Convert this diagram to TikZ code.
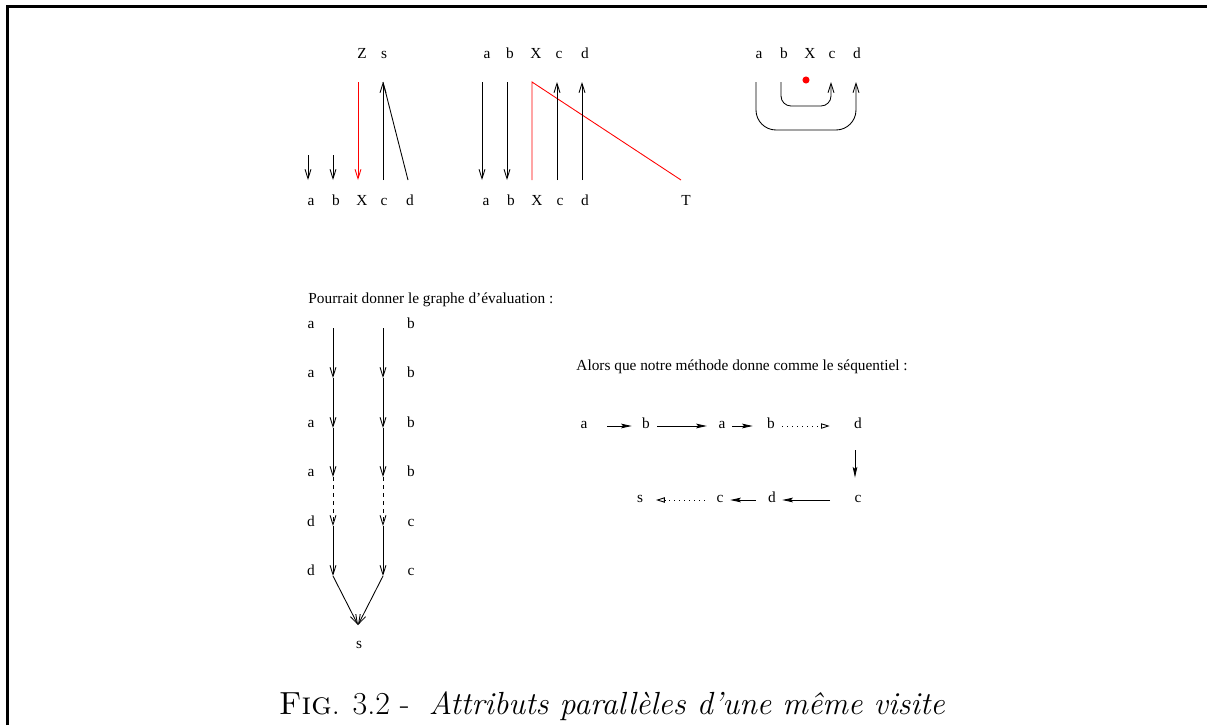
\documentclass[tikz,border=0pt]{standalone}
\usepackage{fontspec}
\newfontfamily\timesfont{Liberation Serif}
\usetikzlibrary{arrows.meta}
\tikzset{
	lbl/.style={font=\timesfont\fontsize{11.5}{13}\selectfont, inner sep=0pt, anchor=base},
	seqlbl/.style={lbl, text height=3pt, text depth=0pt},
	barb/.style={-{Straight Barb[length=7pt,width=4.5pt]}},
	seqarrow/.style={-{Stealth[length=8pt,width=3.5pt,inset=1.5pt]}},
	seqdots/.style={dash pattern=on 0.75pt off 3pt, -{Triangle[open,length=6.5pt,width=4pt]}}
}
\begin{document}
\begin{tikzpicture}[x=0.75pt,y=-0.75pt,line width=0.65pt]
					\useasboundingbox (0,0) rectangle (1207,725);
					\draw[line width=2.25pt] (7.5,725) -- (7.5,6.5) -- (1207,6.5);
					\node[lbl] (uZ) at (362,58) {Z};
					\node[lbl] (us) at (384,58) {s};
					\node[lbl] (ua) at (311,205) {a};
					\node[lbl] (ub) at (336,205) {b};
					\node[lbl] (uX) at (362,205) {X};
					\node[lbl] (uc) at (384,205) {c};
					\node[lbl] (ud) at (410,205) {d};
					\coordinate (ua1) at (308,155);
					\coordinate (ua2) at (308,180);
					\coordinate (ub1) at (333,155);
					\coordinate (ub2) at (333,180);
					\coordinate (uX1) at (358,82);
					\coordinate (uX2) at (358,180);
					\coordinate (uc1) at (383,82);
					\coordinate (uc2) at (383,180);
					\coordinate (ud2) at (408,180);
					\draw[barb] (ua1) -- (ua2);
					\draw[barb] (ub1) -- (ub2);
					\draw[barb,red] (uX1) -- (uX2);
					\draw[barb] (uc2) -- (uc1);
					\draw (ud2) -- (uc1);
					\node[lbl] (va) at (487,58) {a};
					\node[lbl] (vb) at (510,58) {b};
					\node[lbl] (vX) at (536,58) {X};
					\node[lbl] (vc) at (559,58) {c};
					\node[lbl] (vd) at (585,58) {d};
					\node[lbl] (wa) at (486,205) {a};
					\node[lbl] (wb) at (511,205) {b};
					\node[lbl] (wX) at (537,205) {X};
					\node[lbl] (wc) at (560,205) {c};
					\node[lbl] (wd) at (585,205) {d};
					\node[lbl] (wT) at (686,205) {T};
					\coordinate (va1) at (482,82);
					\coordinate (va2) at (482,180);
					\coordinate (vb1) at (507,82);
					\coordinate (vb2) at (507,180);
					\coordinate (vX1) at (532,82);
					\coordinate (vX2) at (532,180);
					\coordinate (vT2) at (681,180);
					\coordinate (vc1) at (557,82);
					\coordinate (vc2) at (557,180);
					\coordinate (vd1) at (582,82);
					\coordinate (vd2) at (582,180);
					\draw[barb] (va1) -- (va2);
					\draw[barb] (vb1) -- (vb2);
					\draw[red] (vX2) -- (vX1) -- (vT2);
					\draw[barb] (vc2) -- (vc1);
					\draw[barb] (vd2) -- (vd1);
					\node[lbl] (xa) at (759,58) {a};
					\node[lbl] (xb) at (784,58) {b};
					\node[lbl] (xX) at (810,58) {X};
					\node[lbl] (xc) at (832,58) {c};
					\node[lbl] (xd) at (857,58) {d};
					\filldraw[red] (806,80) circle (2.3pt);
					\coordinate (xb1) at (781,82);
					\coordinate (xc1) at (831,82);
					\coordinate (xa1) at (756,82);
					\coordinate (xd1) at (856,82);
					\draw[barb,rounded corners=7.5pt] (xb1) -- (781,106) -- (831,106) -- (xc1);
					\draw[barb,rounded corners=15pt] (xa1) -- (756,130) -- (856,130) -- (xd1);
					\node[lbl,anchor=base west] (ptxt) at (308,303) {Pourrait donner le graphe d’évaluation :};
					\node[lbl] (ga1) at (311,328) {a};
					\node[lbl] (ga2) at (311,377.5) {a};
					\node[lbl] (ga3) at (311,427) {a};
					\node[lbl] (ga4) at (311,476.5) {a};
					\node[lbl] (gd1) at (311,526) {d};
					\node[lbl] (gd2) at (311,575.5) {d};
					\node[lbl] (gb1) at (411,328) {b};
					\node[lbl] (gb2) at (411,377.5) {b};
					\node[lbl] (gb3) at (411,427) {b};
					\node[lbl] (gb4) at (411,476.5) {b};
					\node[lbl] (gc1) at (411,526) {c};
					\node[lbl] (gc2) at (411,575.5) {c};
					\node[lbl] (gs) at (359,648) {s};
					\foreach \i/\y in {0/328,1/378,2/428,3/477,4/526,5/576} {
						\coordinate (l\i) at (333,\y);
						\coordinate (r\i) at (383,\y);
					}
					\coordinate (gs1) at (358,625);
					\draw[barb] (l0) -- (l1);
					\draw[barb] (l1) -- (l2);
					\draw[barb] (l2) -- (l3);
					\draw[barb,dashed] (l3) -- (l4);
					\draw[barb] (l4) -- (l5);
					\draw[barb] (l5) -- (gs1);
					\draw[barb] (r0) -- (r1);
					\draw[barb] (r1) -- (r2);
					\draw[barb] (r2) -- (r3);
					\draw[barb,dashed] (r3) -- (r4);
					\draw[barb] (r4) -- (r5);
					\draw[barb] (r5) -- (gs1);
					\node[lbl,anchor=base west] (stxt) at (576,370) {Alors que notre méthode donne comme le séquentiel :};
					\node[seqlbl] (sa1) at (584,428) {a};
					\node[seqlbl] (sb1) at (646,428) {b};
					\node[seqlbl] (sa2) at (722,428) {a};
					\node[seqlbl] (sb2) at (771,428) {b};
					\node[seqlbl] (sd1) at (858,428) {d};
					\node[seqlbl] (ss) at (640,502) {s};
					\node[seqlbl] (sc2) at (720,502) {c};
					\node[seqlbl] (sd2) at (772,502) {d};
					\node[seqlbl] (sc1) at (858,502) {c};
					\draw[seqarrow,shorten <=14.5pt,shorten >=7.5pt] (sa1.east) -- (sb1.west);
					\draw[seqarrow,shorten <=5.3pt,shorten >=8.5pt] (sb1.east) -- (sa2.west);
					\draw[seqarrow,shorten <=4.8pt,shorten >=10.5pt] (sa2.east) -- (sb2.west);
					\draw[seqdots,shorten <=5.3pt,shorten >=18pt] (sb2.east) -- (sd1.west);
					\draw[seqarrow,shorten <=16.5pt,shorten >=15pt] ([xshift=-2.25pt]sd1.south) -- ([xshift=-2.25pt]sc1.north);
					\draw[seqarrow,shorten <=18pt,shorten >=4.5pt] (sc1.west) -- (sd2.east);
					\draw[seqarrow,shorten <=9pt,shorten >=4.8pt] (sd2.west) -- (sc2.east);
					\draw[seqdots,shorten <=8.5pt,shorten >=9.5pt] (sc2.west) -- (ss.east);
					\node[anchor=base,font=\fontsize{24}{28}\selectfont] (cap) at (612,714) {\textsc{Fig}. 3.2 - \ \textit{Attributs parallèles d’une même visite}};
				\end{tikzpicture}
\end{document}
